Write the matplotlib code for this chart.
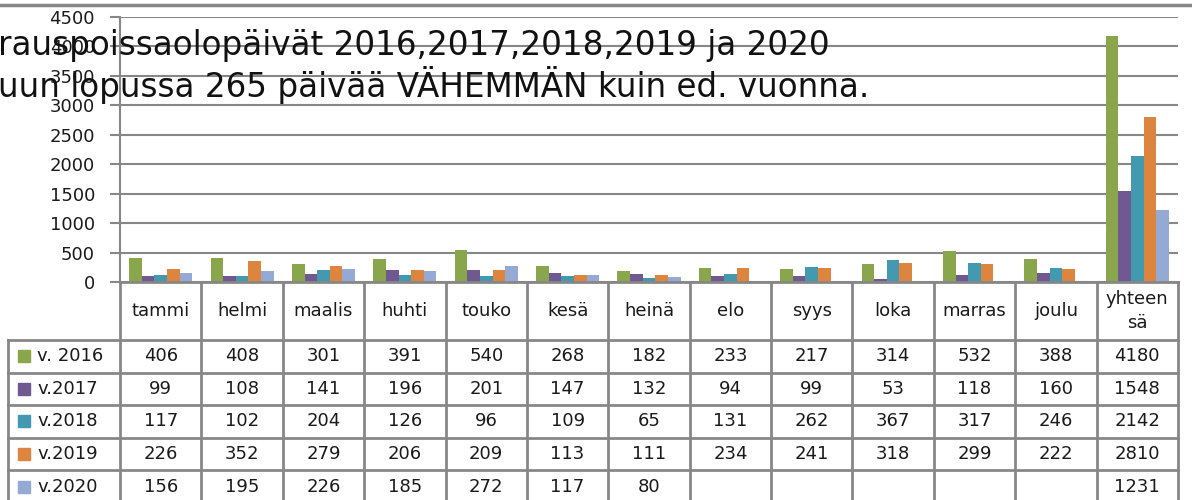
import matplotlib.pyplot as plt
import numpy as np

plt.rcParams['font.family'] = ['DejaVu Sans']

# data
months = ["tammi", "helmi", "maalis", "huhti", "touko", "kesä", "heinä",
          "elo", "syys", "loka", "marras", "joulu", "yhteen\nsä"]
series_names = ["v. 2016", "v.2017", "v.2018", "v.2019", "v.2020"]
v2016 = [406, 408, 301, 391, 540, 268, 182, 233, 217, 314, 532, 388, 4180]
v2017 = [99, 108, 141, 196, 201, 147, 132, 94, 99, 53, 118, 160, 1548]
v2018 = [117, 102, 204, 126, 96, 109, 65, 131, 262, 367, 317, 246, 2142]
v2019 = [226, 352, 279, 206, 209, 113, 111, 234, 241, 318, 299, 222, 2810]
v2020 = [156, 195, 226, 185, 272, 117, 80, None, None, None, None, None, 1231]
colors = ["#8aa64c", "#705890", "#4399b0", "#dd843e", "#94a9d3"]
title_lines = ["rauspoissaolopäivät 2016,2017,2018,2019 ja 2020",
               "uun lopussa 265 päivää VÄHEMMÄN kuin ed. vuonna."]

W, H = 1192, 500
fig = plt.figure(figsize=(W / 100, H / 100), dpi=100)
grid_c = "#878787"
txt_c = "#1a1a1a"

# plot area in pixels
x0, x1, ytop, ybot = 120, 1178, 17, 282
ax = fig.add_axes([x0 / W, 1 - ybot / H, (x1 - x0) / W, (ybot - ytop) / H])
all_series = [v2016, v2017, v2018, v2019, v2020]
n = len(months)
x = np.arange(n)
bw = 0.155
for i, (vals, c) in enumerate(zip(all_series, colors)):
    v = [np.nan if a is None else a for a in vals]
    ax.bar(x + (i - 2) * bw, v, width=bw, color=c, zorder=3)
ax.set_xlim(-0.5, n - 0.5)
ax.set_ylim(0, 4500)
ax.set_yticks(range(0, 4501, 500))
ax.tick_params(axis='y', labelsize=13, length=7, width=1.5, color=grid_c, pad=11,
               labelcolor=txt_c)
ax.set_xticks([])
ax.grid(axis='y', color=grid_c, linewidth=1.5, zorder=0)
for s in ["top", "right", "bottom"]:
    ax.spines[s].set_visible(False)
ax.spines["left"].set_color(grid_c)
ax.spines["left"].set_linewidth(1.5)

# table below, in pixel coordinates
tax = fig.add_axes([0, 0, 1, 1])
tax.set_xlim(0, W)
tax.set_ylim(H, 0)
tax.axis("off")
cw = (x1 - x0) / n
head_bot = 340
row_h = 32.5
rows_y = [head_bot + k * row_h for k in range(6)]
lw = 2
# top border line of chart
tax.plot([0, W], [5, 5], color=grid_c, lw=2.5)
# vertical lines
for k in range(n + 1):
    tax.plot([x0 + k * cw] * 2, [ybot, H], color=grid_c, lw=lw)
tax.plot([8, 8], [head_bot, H], color=grid_c, lw=lw)
# horizontal lines
tax.plot([x0, x1], [ybot, ybot], color=grid_c, lw=lw)
for yy in rows_y:
    tax.plot([8, x1], [yy, yy], color=grid_c, lw=lw)
# header
for k, m in enumerate(months):
    tax.text(x0 + (k + 0.5) * cw, (ybot + head_bot) / 2, m, ha="center", va="center",
             fontsize=13, color=txt_c, linespacing=1.45)
# rows
for r, (name, vals, c) in enumerate(zip(series_names, all_series, colors)):
    yc = rows_y[r] + row_h / 2 + (1 if r == 4 else 0)
    tax.add_patch(plt.Rectangle((18, yc - 6), 12, 12, color=c))
    tax.text(37, yc, name, ha="left", va="center", fontsize=13, color=txt_c)
    for k, v in enumerate(vals):
        if v is not None:
            tax.text(x0 + (k + 0.5) * cw, yc, str(v), ha="center", va="center",
                     fontsize=13, color=txt_c)

# title overlay
for i, t in enumerate(title_lines):
    fig.text(-2 / W, 1 - (45 + i * 40) / H, t, ha="left", va="center", fontsize=23.5,
             color="#111111")

fig.savefig("out.png", dpi=100)
